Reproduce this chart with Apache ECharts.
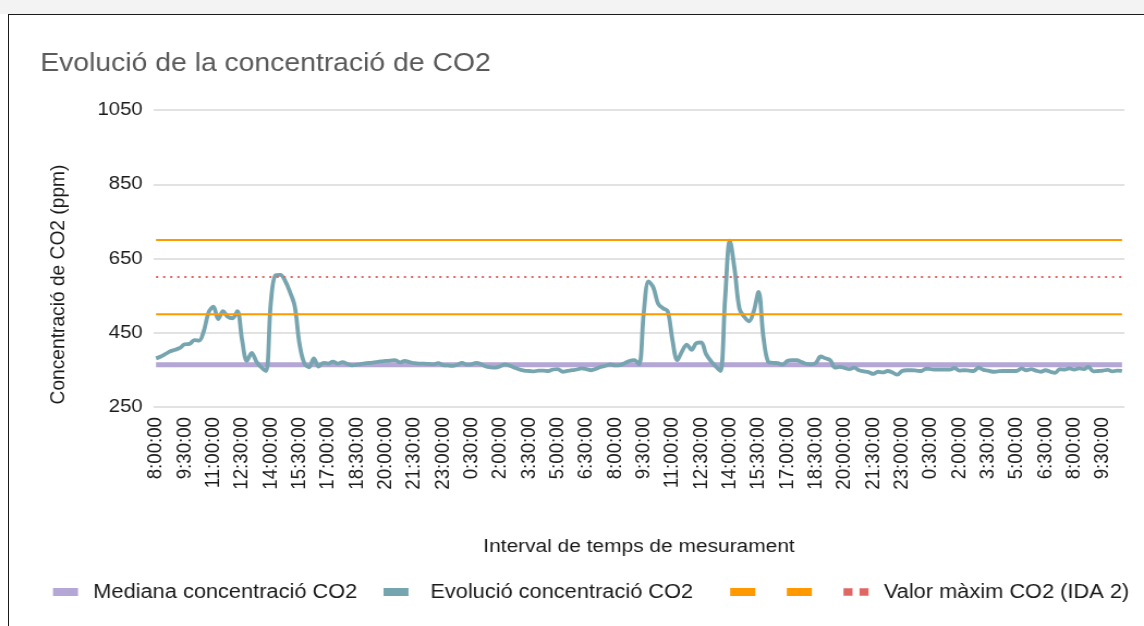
<!DOCTYPE html>
<html>
<head>
<meta charset="utf-8">
<title>Evolució de la concentració de CO2</title>
<script src="https://cdn.jsdelivr.net/npm/echarts@6/dist/echarts.min.js"></script>
<style>
  html, body { margin: 0; padding: 0; background: #fff; overflow: hidden; }
  #strip { position: absolute; left: 0; top: 0; width: 1144px; height: 14px; background: #f3f3f3; }
  #frame {
    position: absolute; left: 8px; top: 14px; width: 1136px; height: 612px;
    border-left: 1px solid #1a1a1a; border-top: 1px solid #1a1a1a;
    box-sizing: border-box; pointer-events: none;
  }
  /* the reference glyphs are a bit wide, so the chart is drawn at 1050px and stretched */
  #chart {
    position: absolute; left: 0; top: 0; width: 1050px; height: 626px;
    transform: scaleX(1.0895); transform-origin: 0 0;
  }
</style>
</head>
<body>
<div id="strip"></div>
<div id="chart"></div>
<div id="frame"></div>
<script>
// readings every 15 min, first at 8:00:00
const START_MIN = 8 * 60;
const STEP_MIN = 15;

const co2Values = [
  381, 386, 393, 400, 404, 409, 419, 420, 430, 429,
  455, 505, 520, 487, 508, 493, 489, 508, 430, 374,
  396, 372, 357, 347, 530, 605, 606, 590, 560, 522,
  420, 368, 357, 381, 359, 369, 367, 372, 367, 371,
  366, 362, 364, 366, 368, 369, 371, 373, 374, 375,
  376, 370, 374, 371, 368, 367, 367, 366, 365, 368,
  363, 362, 361, 364, 369, 364, 365, 369, 365, 359,
  357, 356, 360, 365, 361, 356, 351, 348, 347, 346,
  348, 348, 347, 351, 352, 345, 347, 349, 351, 354,
  352, 349, 353, 358, 361, 365, 362, 363, 368, 374,
  376, 365, 505, 588, 572, 528, 516, 508, 430, 376,
  400, 418, 404, 422, 424, 393, 374, 360, 347, 540,
  698, 620, 515, 493, 481, 508, 560, 440, 372, 369,
  368, 364, 374, 376, 376, 371, 366, 365, 369, 386,
  381, 376, 356, 358, 355, 352, 356, 349, 346, 344,
  339, 345, 343, 347, 343, 337, 347, 349, 349, 348,
  347, 353, 352, 351, 351, 351, 351, 355, 348, 349,
  348, 347, 356, 350, 348, 345, 346, 347, 347, 347,
  347, 354, 349, 352, 348, 345, 349, 345, 342, 352,
  351, 354, 351, 354, 352, 358, 346, 347, 348, 350,
  346, 348, 347
];

const medianValue = 364;   // Mediana concentració CO2
const upperLimit = 700;    // orange lines
const lowerLimit = 500;
const idaMaxValue = 600;   // Valor màxim CO2 (IDA 2)

const yTicks = { min: 250, max: 1050, step: 200 };

const categories = co2Values.map((_, i) => {
  const m = (START_MIN + i * STEP_MIN) % 1440;
  return Math.floor(m / 60) + ":" + String(m % 60).padStart(2, "0") + ":00";
});

const FONT = "'Liberation Sans', Arial, sans-serif";
const TXT = "#1a1a1a";
const MEDIAN_NAME = "Mediana concentració CO2";
const EVOL_NAME = "Evolució concentració CO2";
const IDA_NAME = "Valor màxim CO2 (IDA 2)";
// the two orange series have no visible name in the legend
const BLANK_A = "\u200b";
const BLANK_B = "\u200b\u200b";

const chart = echarts.init(document.getElementById("chart"));

const flat = (v) => categories.map(() => v);

let series = [
  {
    name: MEDIAN_NAME,
    type: "line",
    data: flat(medianValue),
    symbol: "none",
    color: "#b4a7d6",
    lineStyle: { width: 5, color: "#b4a7d6" },
  },
  {
    name: EVOL_NAME,
    type: "line",
    data: co2Values,
    symbol: "none",
    smooth: 0.35,
    color: "#76a5af",
    lineStyle: { width: 3.8, color: "#76a5af" },
  },
  {
    name: BLANK_A,
    type: "line",
    data: flat(upperLimit),
    symbol: "none",
    color: "#ff9900",
    lineStyle: { width: 2, color: "#ff9900" },
  },
  {
    name: BLANK_B,
    type: "line",
    data: flat(lowerLimit),
    symbol: "none",
    color: "#ff9900",
    lineStyle: { width: 2, color: "#ff9900" },
  },
  {
    name: IDA_NAME,
    type: "line",
    data: flat(idaMaxValue),
    symbol: "none",
    color: "#e06666",
    lineStyle: { width: 2, color: "#e06666", type: [2, 4.5] },
  },
];

const option = {
  animation: false,
  textStyle: { fontFamily: FONT },
  title: {
    text: "Evolució de la concentració de CO2",
    left: 37,
    top: 51,
    padding: 0,
    textStyle: { fontFamily: FONT, fontSize: 26, fontWeight: "normal", color: "#595959" },
  },
  legend: {
    left: 48.6,
    top: 582,
    padding: 0,
    itemWidth: 23,
    itemHeight: 8,
    itemGap: 24,
    itemStyle: { borderWidth: 0 },
    // a little extra room after the second entry, as in the reference
    formatter: (name) => (name === EVOL_NAME ? name + "\u2002" : name),
    textStyle: { fontFamily: FONT, fontSize: 20, color: TXT, padding: [0, 0, 0, 9] },
    data: [
      { name: MEDIAN_NAME, icon: "rect" },
      { name: EVOL_NAME, icon: "rect", textStyle: { padding: [0, 0, 0, 15] } },
      { name: BLANK_A, icon: "rect", textStyle: { padding: 0 } },
      { name: BLANK_B, icon: "rect", textStyle: { padding: 0 } },
      { name: IDA_NAME, icon: "path://M0,0h9v8h-9z M16,0h9v8h-9z" },
    ],
  },
  grid: { left: 141, right: 18, top: 110, bottom: 219 },
  xAxis: {
    type: "category",
    data: categories,
    boundaryGap: true,
    axisLine: { show: false },
    axisTick: { show: false },
    axisLabel: { interval: 5, rotate: 90, margin: 10, fontSize: 18.7, color: TXT },
    name: "Interval de temps de mesurament",
    nameLocation: "middle",
    nameGap: 130,
    nameTextStyle: { fontSize: 19.2, color: TXT },
  },
  yAxis: {
    type: "value",
    min: yTicks.min,
    max: yTicks.max,
    interval: yTicks.step,
    axisLine: { show: false },
    axisTick: { show: false },
    axisLabel: { margin: 10, fontSize: 18.7, color: TXT, formatter: (v) => String(v) },
    splitLine: { lineStyle: { color: "#d9d9d9", width: 1.5 } },
    name: "Concentració de CO2 (ppm)",
    nameLocation: "middle",
    nameGap: 78,
    nameTextStyle: { fontSize: 19.2, color: TXT, padding: [0, 52, 0, 0] },
  },
  series,
};

chart.setOption(option, true);
</script>
</body>
</html>
